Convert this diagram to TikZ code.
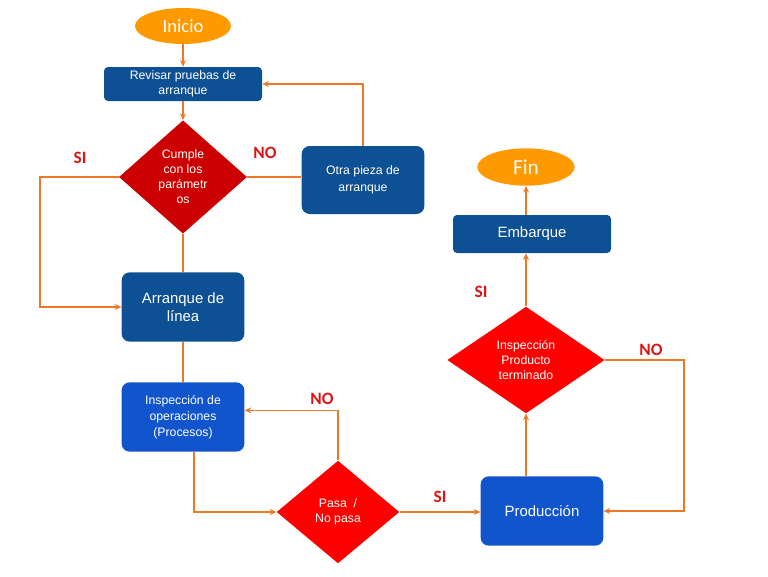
\documentclass[tikz,border=0pt]{standalone}
\usepackage{fontspec}
\setmainfont{Liberation Sans}
\newfontfamily\calibri{Carlito}
\usetikzlibrary{arrows.meta,calc,shapes.geometric}
\definecolor{azulosc}{RGB}{14,80,148}
\definecolor{azulcla}{RGB}{17,85,204}
\definecolor{rojoosc}{RGB}{204,0,0}
\definecolor{rojocla}{RGB}{255,0,0}
\definecolor{naranja}{RGB}{255,153,0}
\definecolor{trazo}{RGB}{236,120,40}
\definecolor{rotulo}{RGB}{222,20,20}
\tikzset{
>={Stealth[length=5pt,width=4.5pt]},
node distance=2.5cm,
caja/.style={rectangle,rounded corners=6pt,fill=azulosc,text=white,align=center,inner sep=2pt,
  minimum width=92pt,minimum height=52pt,font=\fontsize{9.2}{12}\selectfont},
grande/.style={font=\fontsize{11.2}{13.5}\selectfont},
rombo/.style={diamond,inner sep=0pt,fill=rojocla,text=white,align=center,font=\fontsize{9.2}{11.2}\selectfont},
ovalo/.style={ellipse,fill=naranja,text=white,inner sep=0pt},
linea/.style={draw=trazo,line width=1.1pt},
flecha/.style={linea,->},
etiqueta/.style={text=rotulo,font=\calibri\bfseries\fontsize{13}{13}\selectfont}}

\begin{document}
\begin{tikzpicture}[x=0.75pt,y=-0.75pt]
\useasboundingbox (0,0) rectangle (768,576);

\node (1) [ovalo,minimum width=72pt,minimum height=27pt,font=\calibri\fontsize{14}{14}\selectfont] at (183,26) {Inicio};
\node (2) [caja,below of=1,node distance=43.5pt,minimum width=118.5pt,minimum height=25.5pt,rounded corners=3pt,font=\fontsize{9.2}{11}\selectfont] {Revisar pruebas de\\arranque};
\node (3) [rombo,below of=2,node distance=69.75pt,minimum width=96pt,minimum height=85pt,fill=rojoosc] {Cumple\\con los\\parámetr\\os};
\node (4) [caja,minimum height=51pt,font=\fontsize{9.2}{12.5}\selectfont] at (363,180) {Otra pieza de\\arranque};
\node (5) [caja,grande,below of=3,node distance=97.5pt] {Arranque de\\línea};
\node (6) [caja,fill=azulcla,below of=5,node distance=82.5pt] {Inspección de\\operaciones\\(Procesos)};
\node (7) [rombo,minimum width=92pt,minimum height=77pt] at (338,512) {Pasa~~/\\No pasa};
\node (8) [caja,grande,fill=azulcla] at (542,511) {Producción};
\node (9) [rombo,minimum width=118pt,minimum height=80pt] at (526,360) {Inspección\\Producto\\terminado};
\node (10) [caja,grande,minimum width=118.5pt,minimum height=28.5pt,rounded corners=3pt] at (532,234) {Embarque};
\node (11) [ovalo,minimum width=73pt,minimum height=28pt,font=\calibri\fontsize{16}{16}\selectfont] at (526,167) {Fin};

\coordinate (izq) at (40,177);
\coordinate (der) at (684,360);

\draw[flecha] (1) -- (2);
\draw[flecha] (2) -- (3);
\draw[linea] (3.east) -- (3.east -| 4.west);
\draw[flecha] (4) |- (2);
\draw[flecha] (3.west) -- (izq) |- (5);
\draw[linea] (3) -- (5);
\draw[linea] (5) -- (6);
\draw[flecha] ([xshift=8.25pt]6.south) |- (7);
\draw[flecha] (7) |- ([yshift=5pt]6.east);
\draw[flecha] (7.east) -- (7.east -| 8.west);
\draw[flecha] (8.north -| 9) -- (9);
\draw[flecha] (9.east) -- (der) |- (8);
\draw[flecha] (9) -- (9 |- 10.south);
\draw[flecha] (10.north -| 11) -- (11);

\node[etiqueta] (si1) at (80,158) {SI};
\node[etiqueta] (no1) at (265,153) {NO};
\node[etiqueta] (no2) at (322,399) {NO};
\node[etiqueta] (si2) at (440,497) {SI};
\node[etiqueta] (si3) at (481,292) {SI};
\node[etiqueta] (no3) at (651,350) {NO};

\end{tikzpicture}
\end{document}
